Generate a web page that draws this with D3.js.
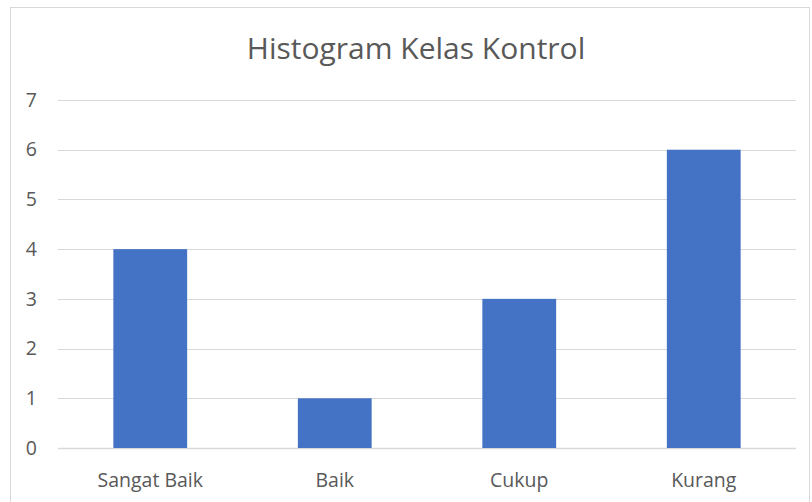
<!DOCTYPE html>
<html>
<head>
<meta charset="utf-8">
<script src="https://cdn.jsdelivr.net/npm/d3@7"></script>
<style>
  body { margin: 0; background: #fff; }
  svg { display: block; font-family: 'Open Sans', sans-serif; }
</style>
</head>
<body>
<div id="app"></div>
<script>
const categories = ['Sangat Baik', 'Baik', 'Cukup', 'Kurang'];
const values = [4, 1, 3, 6];
const yTicks = [0, 1, 2, 3, 4, 5, 6, 7];
const title = 'Histogram Kelas Kontrol';

const width = 812;
const height = 502;
const margin = { top: 100, right: 16, bottom: 54, left: 58 };

const svg = d3.select('#app').append('svg')
  .attr('width', width)
  .attr('height', height);

// chart frame
svg.append('rect')
  .attr('x', 10.5)
  .attr('y', 7.5)
  .attr('width', 799)
  .attr('height', 510)
  .attr('fill', 'none')
  .attr('stroke', '#d9d9d9');

const x = d3.scaleBand()
  .domain(categories)
  .range([margin.left, width - margin.right])
  .paddingInner(0.6)
  .paddingOuter(0.3);

const y = d3.scaleLinear()
  .domain([0, 7])
  .range([height - margin.bottom, margin.top]);

// gridlines
svg.append('g')
  .selectAll('line')
  .data(yTicks)
  .enter().append('line')
  .attr('x1', margin.left)
  .attr('x2', width - margin.right)
  .attr('y1', d => Math.round(y(d)) + 0.5)
  .attr('y2', d => Math.round(y(d)) + 0.5)
  .attr('stroke', '#d9d9d9')
  .attr('stroke-width', d => d === 0 ? 1.5 : 1);

// bars
svg.append('g')
  .selectAll('rect')
  .data(values)
  .enter().append('rect')
  .attr('x', (d, i) => x(categories[i]))
  .attr('width', x.bandwidth())
  .attr('y', d => y(d))
  .attr('height', d => y(0) - y(d))
  .attr('fill', '#4472c4');

// y axis labels
const yAxis = svg.append('g')
  .attr('transform', `translate(${margin.left},0)`)
  .call(d3.axisLeft(y).tickValues(yTicks).tickFormat(d3.format('d')).tickSize(0).tickPadding(21));
yAxis.select('.domain').remove();
yAxis.selectAll('text')
  .attr('fill', '#595959')
  .style('font-size', '19.5px')
  .style('font-family', "'Open Sans', sans-serif");

// x axis labels
const xAxis = svg.append('g')
  .attr('transform', `translate(0,${height - margin.bottom})`)
  .call(d3.axisBottom(x).tickSize(0).tickPadding(25));
xAxis.select('.domain').remove();
xAxis.selectAll('text')
  .attr('fill', '#595959')
  .style('font-size', '19.5px')
  .style('font-family', "'Open Sans', sans-serif");

// title
svg.append('text')
  .attr('x', 416)
  .attr('y', 59)
  .attr('text-anchor', 'middle')
  .attr('fill', '#595959')
  .style('font-size', '30px')
  .text(title);
</script>
</body>
</html>
